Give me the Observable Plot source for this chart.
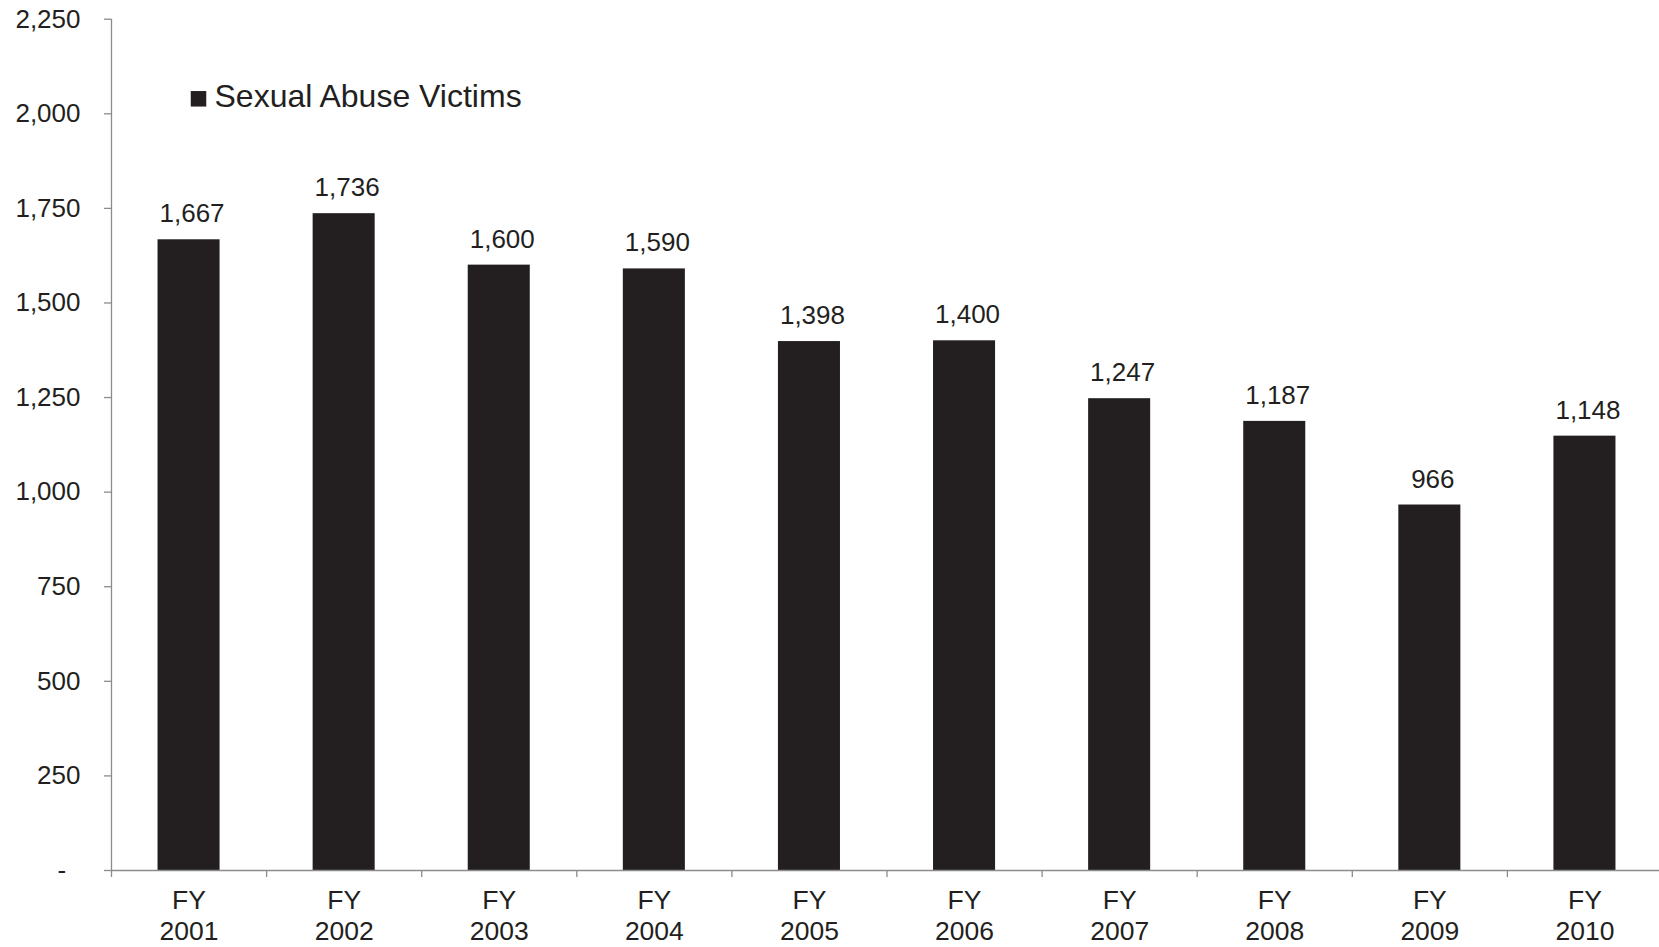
<!DOCTYPE html>
<html>
<head>
<meta charset="utf-8">
<script src="https://cdn.jsdelivr.net/npm/d3@7"></script>
<script src="https://cdn.jsdelivr.net/npm/@observablehq/plot@0.6"></script>
<style>
  html, body { margin: 0; padding: 0; background: #fff; }
  #chart svg { display: block; }
</style>
</head>
<body>
<div id="chart"></div>
<script>
const years = ["2001","2002","2003","2004","2005","2006","2007","2008","2009","2010"];
const victims = [1667,1736,1600,1590,1398,1400,1247,1187,966,1148];
const yTicks = [0,250,500,750,1000,1250,1500,1750,2000,2250];
const seriesName = "Sexual Abuse Victims";

const data = years.map((y, i) => ({year: y, value: victims[i]}));

const W = 1659, H = 947;
const mL = 111, mR = -3, mT = 18.7, mB = 77;
const step = (W - mL - mR) / years.length;
const ink = "#231f20";
const axisGray = "#8c8c8c";
const fmt = d3.format(",");

const chart = Plot.plot({
  width: W,
  height: H,
  marginLeft: mL,
  marginRight: mR,
  marginTop: mT,
  marginBottom: mB,
  style: {fontFamily: "Liberation Sans, Arial, sans-serif", color: ink, background: "#fff", overflow: "hidden"},
  x: {domain: years, paddingInner: 0.6, paddingOuter: 0.3, align: 0.5, round: false, axis: null, label: null},
  y: {domain: [0, 2250], axis: null, label: null},
  marks: [
    Plot.barY(data, {x: "year", y: "value", fill: ink}),
    // baseline
    Plot.ruleY([0], {stroke: axisGray, strokeWidth: 1.3}),
    // category boundary ticks
    Plot.ruleX(years, {x: d => d, y1: 0, y2: 0, dx: -step / 2, insetBottom: -7, stroke: axisGray, strokeWidth: 1.3}),
    // left axis line
    Plot.ruleX([years[0]], {x: d => d, y1: 0, y2: 2250, dx: -step / 2, stroke: axisGray, strokeWidth: 1.3}),
    // y axis ticks & labels
    Plot.axisY({
      ticks: yTicks,
      tickSize: 7,
      tickPadding: 24,
      stroke: axisGray,
      strokeWidth: 1.3,
      fill: ink,
      fontSize: 26,
      label: null,
      tickFormat: d => d === 0 ? "-\u00a0\u00a0" : fmt(d),
      anchor: "left"
    }),
    // x axis labels
    Plot.axisX({
      tickSize: 0,
      tickPadding: 17,
      fontSize: 26.5,
      lineHeight: 1.16,
      fill: ink,
      label: null,
      tickFormat: d => "FY\n" + d,
      anchor: "bottom"
    }),
    // value labels
    Plot.text(data, {x: "year", y: "value", text: d => fmt(d.value), dy: -17.5, dx: 3, lineAnchor: "bottom", fontSize: 26, fill: ink}),
    // legend
    Plot.dot([seriesName], {frameAnchor: "top-left", dx: 87, dy: 79.6, symbol: "square", r: 8.75, fill: ink, stroke: "none"}),
    Plot.text([seriesName], {frameAnchor: "top-left", dx: 103, dy: 87.3, text: d => d, textAnchor: "start", lineAnchor: "bottom", fontSize: 32, fill: ink})
  ]
});
document.getElementById("chart").appendChild(chart);
</script>
</body>
</html>
